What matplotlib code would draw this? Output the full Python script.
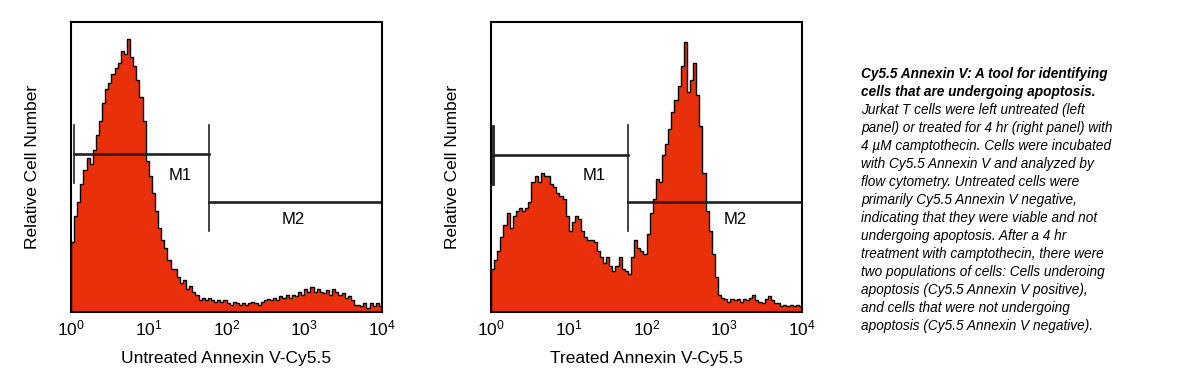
import numpy as np
import matplotlib
matplotlib.use("Agg")
import matplotlib.pyplot as plt

plt.rcParams["font.family"] = ["Liberation Sans", "DejaVu Sans"]

# histogram heights, 25 bins per decade from 10^0 to 10^4 (percent of full scale)
untreated = [
    24, 33, 38, 44, 49, 53, 51, 56, 61, 66, 72, 77, 79, 82, 84, 86, 90, 89, 94, 88, 85, 80, 74, 66, 52,
    47, 41, 35, 29, 25, 22, 18, 15, 15, 12, 10, 11, 8, 9, 7, 6, 4, 5, 4, 5, 4, 3.5, 4, 3.5, 4,
    3, 2.5, 3.5, 3, 2.5, 3, 2.5, 3, 3.5, 3, 2.5, 3.5, 4, 4.5, 4, 5, 4, 5.5, 5, 6, 5, 6, 5.5, 7, 6,
    8, 7, 8.5, 7, 8, 7, 6.5, 7.5, 6, 8, 7, 6, 6.5, 5, 5.5, 4, 2.5, 2.5, 2, 3, 1.5, 3, 2, 3, 2,
]
treated = [
    15, 18, 21, 26, 30, 34, 29, 33, 35, 36, 35, 36, 38, 45, 47, 45, 48, 47, 47, 44, 43, 41, 40, 39, 33,
    28, 31, 33, 32, 28, 26, 25, 25, 24, 21, 19, 17, 19, 16, 14, 16, 19, 15, 14, 13, 19, 25, 22, 21, 20,
    27, 34, 39, 46, 45, 54, 58, 63, 69, 73, 78, 85, 93, 76, 80, 86, 75, 64, 48, 35, 28, 20, 12, 6, 5,
    4.5, 3.5, 4.5, 4, 4.5, 3.5, 4.5, 4, 5, 6, 4, 3.5, 3, 4.5, 5.5, 4, 3, 3, 2, 2.5, 2, 2.5, 2, 2.5, 2,
]

x_labels = ["Untreated Annexin V-Cy5.5", "Treated Annexin V-Cy5.5"]
tick_values = [1, 10, 100, 1000, 10000]
tick_labels = [r"$\mathregular{10^{%d}}$" % i for i in range(5)]

# marker gates: (start, split, end) and levels in percent
m1_start = [1.1, 1.05]
m_split = [60, 58]
m1_level = [54.5, 54.0]
m2_level = [38.0, 37.8]
m1_text_pos = [(25, 47), (21, 47)]
m2_text_pos = [(720, 32), (1380, 32)]

caption_bold = [
    "Cy5.5 Annexin V: A tool for identifying",
    "cells that are undergoing apoptosis.",
]
caption_body = [
    "Jurkat T cells were left untreated (left",
    "panel) or treated for 4 hr (right panel) with",
    "4 \u00b5M camptothecin. Cells were incubated",
    "with Cy5.5 Annexin V and analyzed by",
    "flow cytometry. Untreated cells were",
    "primarily Cy5.5 Annexin V negative,",
    "indicating that they were viable and not",
    "undergoing apoptosis. After a 4 hr",
    "treatment with camptothecin, there were",
    "two populations of cells: Cells underoing",
    "apoptosis (Cy5.5 Annexin V positive),",
    "and cells that were not undergoing",
    "apoptosis (Cy5.5 Annexin V negative).",
]

FILL = "#E8300A"
W, H = 1195, 381

fig = plt.figure(figsize=(W / 100, H / 100), dpi=100)
edges = np.logspace(0, 4, len(untreated) + 1)

for k, (counts, xlab) in enumerate(zip([untreated, treated], x_labels)):
    left = [71, 491][k]
    ax = fig.add_axes([left / W, 1 - 312 / H, 311 / W, 290 / H])
    ax.stairs(counts, edges, fill=True, color=FILL, linewidth=0)
    ax.stairs(counts, edges, color="black", linewidth=1.0)
    ax.set_xscale("log")
    ax.set_xlim(1, 10000)
    ax.set_ylim(0, 100)
    ax.set_xticks(tick_values)
    ax.set_xticklabels(tick_labels, fontsize=12.5)
    ax.minorticks_off()
    ax.set_yticks([])
    ax.tick_params(length=0, pad=5)
    for sp in ax.spines.values():
        sp.set_linewidth(1.5)
    ax.set_xlabel(xlab, fontsize=12.5, labelpad=9)
    ax.set_ylabel("Relative Cell Number", fontsize=12.5, labelpad=22)

    # M1 / M2 gates
    ax.plot([m1_start[k], m_split[k]], [m1_level[k]] * 2, color="#222222", lw=1.9)
    ax.plot([m1_start[k]] * 2, [m1_level[k] - 10, m1_level[k] + 10], color="#222222",
            lw=[1.2, 2.0][k])
    ax.plot([m_split[k]] * 2, [28, 64.5], color="#222222", lw=1.2)
    ax.plot([m_split[k], 10000], [m2_level[k]] * 2, color="#222222", lw=1.9)
    ax.text(*m1_text_pos[k], "M1", fontsize=12, ha="center", va="center")
    ax.text(*m2_text_pos[k], "M2", fontsize=12, ha="center", va="center")

x0 = 861 / W
for i, line in enumerate(caption_bold + caption_body):
    y = 1 - (74 + 18 * i) / H
    weight = "bold" if i < len(caption_bold) else "normal"
    fig.text(x0, y, line, fontsize=9.8, style="italic", weight=weight, va="center", ha="left")

fig.savefig("out.png", dpi=100)
